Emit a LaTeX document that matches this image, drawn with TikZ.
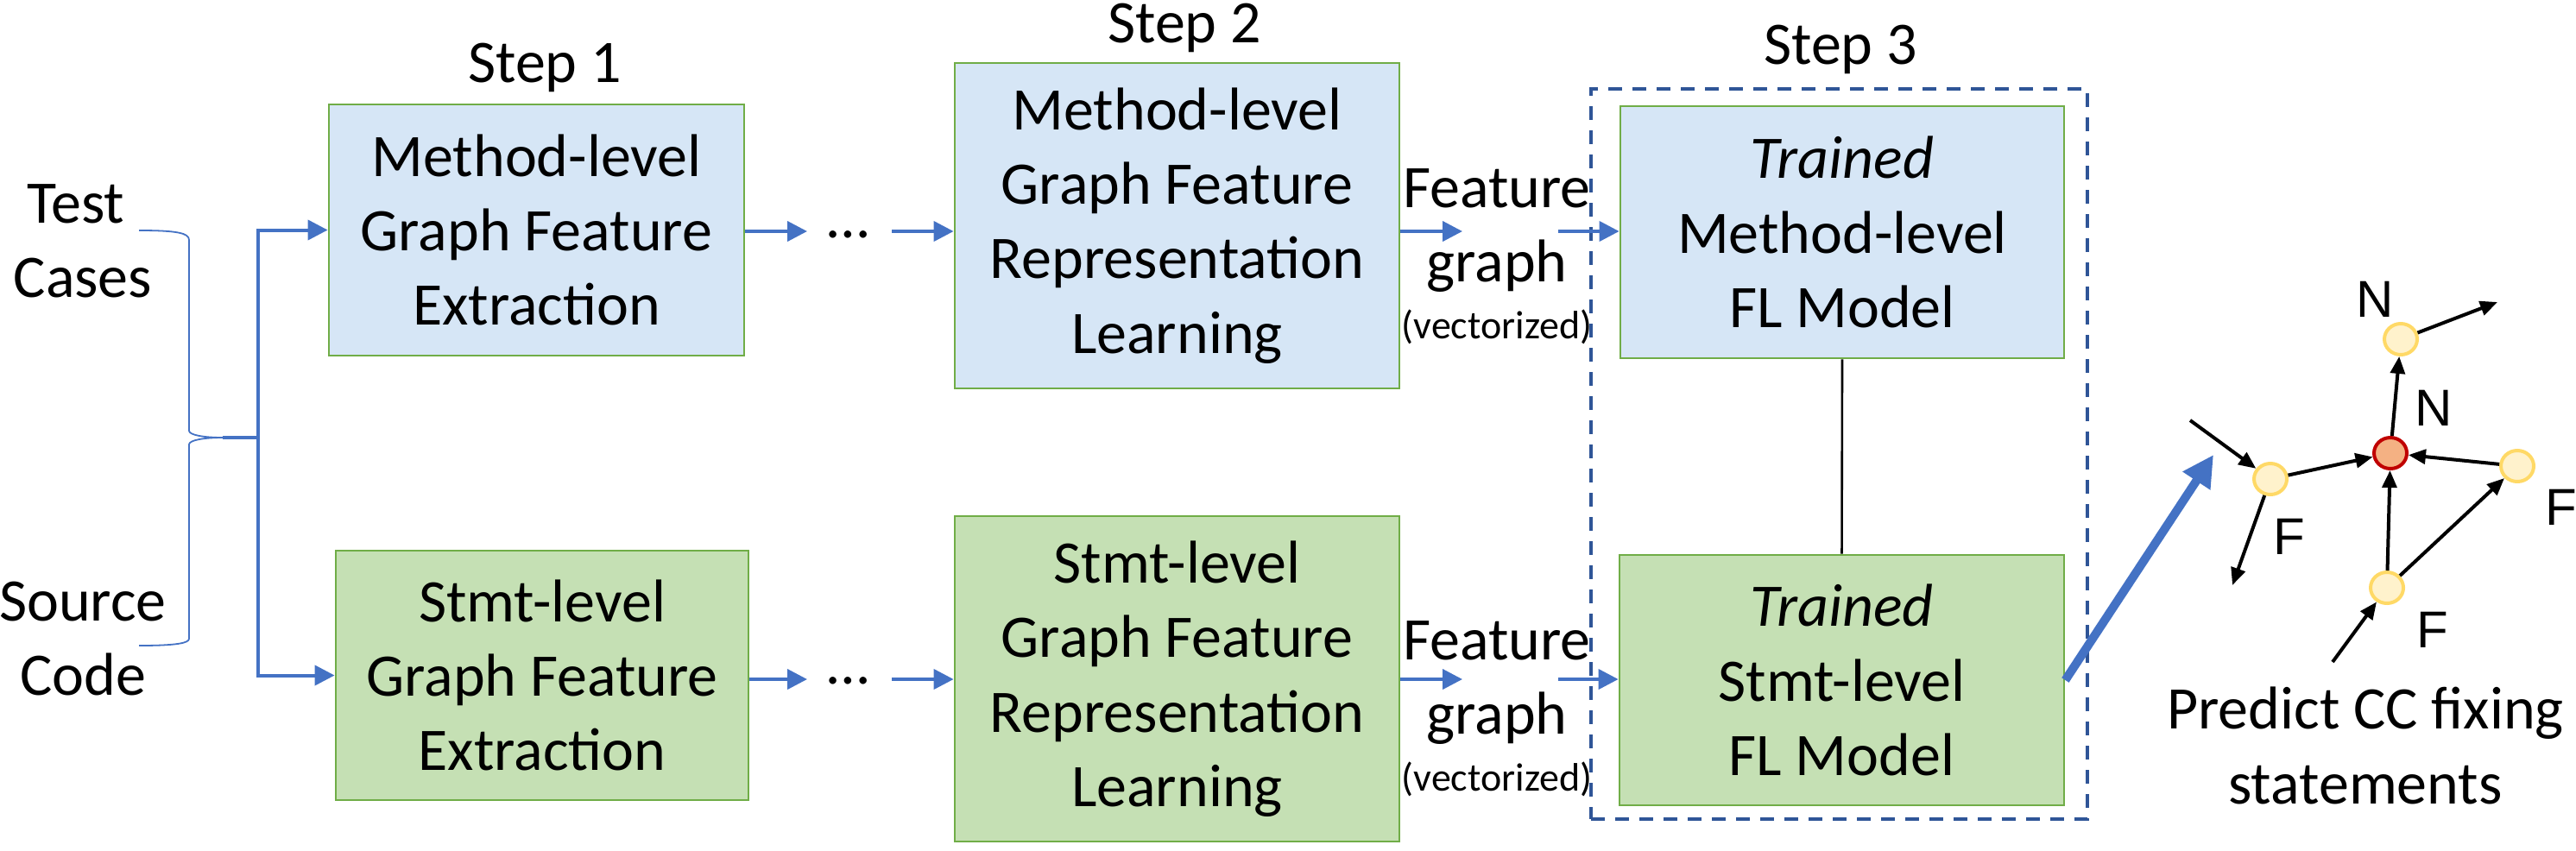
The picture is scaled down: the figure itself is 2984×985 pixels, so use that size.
\documentclass[tikz,border=0pt]{standalone}
\usepackage{fontspec}
\setmainfont{Carlito}
\newfontfamily\arialf{Liberation Sans}
\usetikzlibrary{arrows.meta,shapes.geometric}
\definecolor{arrblue}{HTML}{4472C4}
\definecolor{dashblue}{HTML}{2F5597}
\definecolor{boxgreen}{HTML}{C5E0B4}
\definecolor{bordgreen}{HTML}{70AD47}
\definecolor{boxblue}{RGB}{214,230,246}
\definecolor{nodeyel}{HTML}{FFF2CC}
\definecolor{nodeyelb}{HTML}{FFD966}
\definecolor{nodered}{HTML}{F4B183}
\definecolor{noderedb}{HTML}{C00000}
\begin{document}
\begin{tikzpicture}[x=0.25pt,y=-0.25pt,
  every node/.style={font=\fontsize{17.5pt}{21.6pt}\selectfont, inner sep=0pt},
  mbox/.style={draw=bordgreen, line width=0.7pt, fill=boxblue, align=center},
  sbox/.style={draw=bordgreen, line width=0.7pt, fill=boxgreen, align=center},
  barr/.style={draw=arrblue, line width=1pt, -{Triangle[length=5.75pt,width=5.75pt]}},
  gnode/.style={ellipse, draw=nodeyelb, fill=nodeyel, line width=1pt, minimum width=9.5pt, minimum height=9pt},
  rnode/.style={ellipse, draw=noderedb, fill=nodered, line width=1pt, minimum width=9.5pt, minimum height=9pt},
  karr/.style={draw=black, line width=1pt, -{Triangle[length=5pt,width=4.2pt]}},
  glab/.style={font=\arialf\fontsize{15pt}{18pt}\selectfont},
  dashbox/.style={draw=dashblue, line width=0.875pt, dash pattern=on 4pt off 3pt},
]
\useasboundingbox (0,0) rectangle (2984,985);

% step labels
\node[anchor=base] (step1) at (631,95) {Step 1};
\node[anchor=base] (step2) at (1372,50) {Step 2};
\node[anchor=base] (step3) at (2132,74) {Step 3};

% inputs
\node[align=center] (tc) at (96,279) {Test\kern0.23em\\Cases};
\node[align=center] (sc) at (96,740) {Source\\Code};

% boxes
\node[mbox, minimum width=120.25pt, minimum height=72.75pt] (m1) at (621.5,266.5) {Method-level\\Graph Feature\\Extraction};
\node[sbox, minimum width=119.5pt, minimum height=72.25pt] (s1) at (628,782.5) {Stmt-level\\Graph Feature\\Extraction};
\node[mbox, minimum width=128.75pt, minimum height=94.25pt] (m2) at (1363.5,261.5) {Method-level\\Graph Feature\\Representation\\Learning};
\node[sbox, minimum width=128.75pt, minimum height=94.25pt] (s2) at (1363.5,786.5) {Stmt-level\\Graph Feature\\Representation\\Learning};
\node[dashbox, minimum width=143.75pt, minimum height=211.5pt] (st3) at (2130.5,526) {};
\node[mbox, minimum width=128.5pt, minimum height=73pt] (m3) at (2134,269) {\textit{Trained}\\Method-level\\FL Model};
\node[sbox, minimum width=128.75pt, minimum height=72.5pt] (s3) at (2133.5,788) {\textit{Trained}\\Stmt-level\\FL Model};

% brace and bus
\draw[arrblue, line width=0.45pt] (161,267) .. controls (205,267) and (219,270) .. (219,278) -- (219,499) .. controls (219,504) and (236,507) .. (258,507) .. controls (236,507) and (219,510) .. (219,515) -- (219,740) .. controls (219,745) and (205,748) .. (161,748);
\coordinate (btip) at (258,507);
\coordinate (bus) at (299,507);
\draw[arrblue, line width=0.9pt] (btip) -- (bus);
\draw[barr] (bus) |- (m1.west);
\draw[barr] (bus) |- (s1.west);

% dots
\node[anchor=base] (dots1) at (983,275) {…};
\node[anchor=base] (dots2) at (983,792) {…};
\coordinate (d1in) at (935,268);
\coordinate (d1out) at (1033,268);
\coordinate (d2in) at (935,787);
\coordinate (d2out) at (1033,787);
\draw[barr] (m1.east |- d1in) -- (d1in);
\draw[barr] (d1out) -- (d1out -| m2.west);
\draw[barr] (s1.east |- d2in) -- (d2in);
\draw[barr] (d2out) -- (d2out -| s2.west);

% feature graph labels
\node[align=center] (fg1) at (1734,297.5) {Feature\\graph\\[-5.1pt]{\fontsize{11.5pt}{14pt}\selectfont (vectorized)}};
\node[align=center] (fg2) at (1734,821.5) {Feature\\graph\\[-5.1pt]{\fontsize{11.5pt}{14pt}\selectfont (vectorized)}};
\coordinate (f1in) at (1694,268);
\coordinate (f1out) at (1805,268);
\coordinate (f2in) at (1694,787);
\coordinate (f2out) at (1805,787);
\draw[barr] (m2.east |- f1in) -- (f1in);
\draw[barr] (f1out) -- (f1out -| m3.west);
\draw[barr] (s2.east |- f2in) -- (f2in);
\draw[barr] (f2out) -- (f2out -| s3.west);

% link between trained models
\draw[black, line width=0.65pt] (m3.south) -- (s3.north);

% thick arrow to prediction
\coordinate (ptip) at (2564,527);
\draw[arrblue, line width=2.5pt, -{Triangle[length=9pt,width=9pt]}] (s3.east) -- (ptip);

% graph
\node[gnode] (ga) at (2630,555) {};
\node[rnode] (gc) at (2769,525) {};
\node[gnode] (gn) at (2781,393) {};
\node[gnode] (gr) at (2916,540) {};
\node[gnode] (gb) at (2765,681) {};
\coordinate (ain) at (2537,487);
\coordinate (aout) at (2586,678);
\coordinate (nout) at (2893,350);
\coordinate (bin) at (2702,767);
\draw[karr] (ain) -- (ga);
\draw[karr] (ga) -- (gc);
\draw[karr] (ga) -- (aout);
\draw[karr] (gc) -- (gn);
\draw[karr] (gn) -- (nout);
\draw[karr] (gr) -- (gc);
\draw[karr] (gb) -- (gc);
\draw[karr] (gb) -- (gr);
\draw[karr] (bin) -- (gb);
\node[glab] (ln1) at (2751,347) {N};
\node[glab] (ln2) at (2819,473) {N};
\node[glab] (lf1) at (2652,622) {F};
\node[glab] (lf2) at (2967,588) {F};
\node[glab] (lf3) at (2818,730) {F};

\node[align=center] (pred) at (2740,864) {Predict CC fixing\\statements};
\end{tikzpicture}
\end{document}
